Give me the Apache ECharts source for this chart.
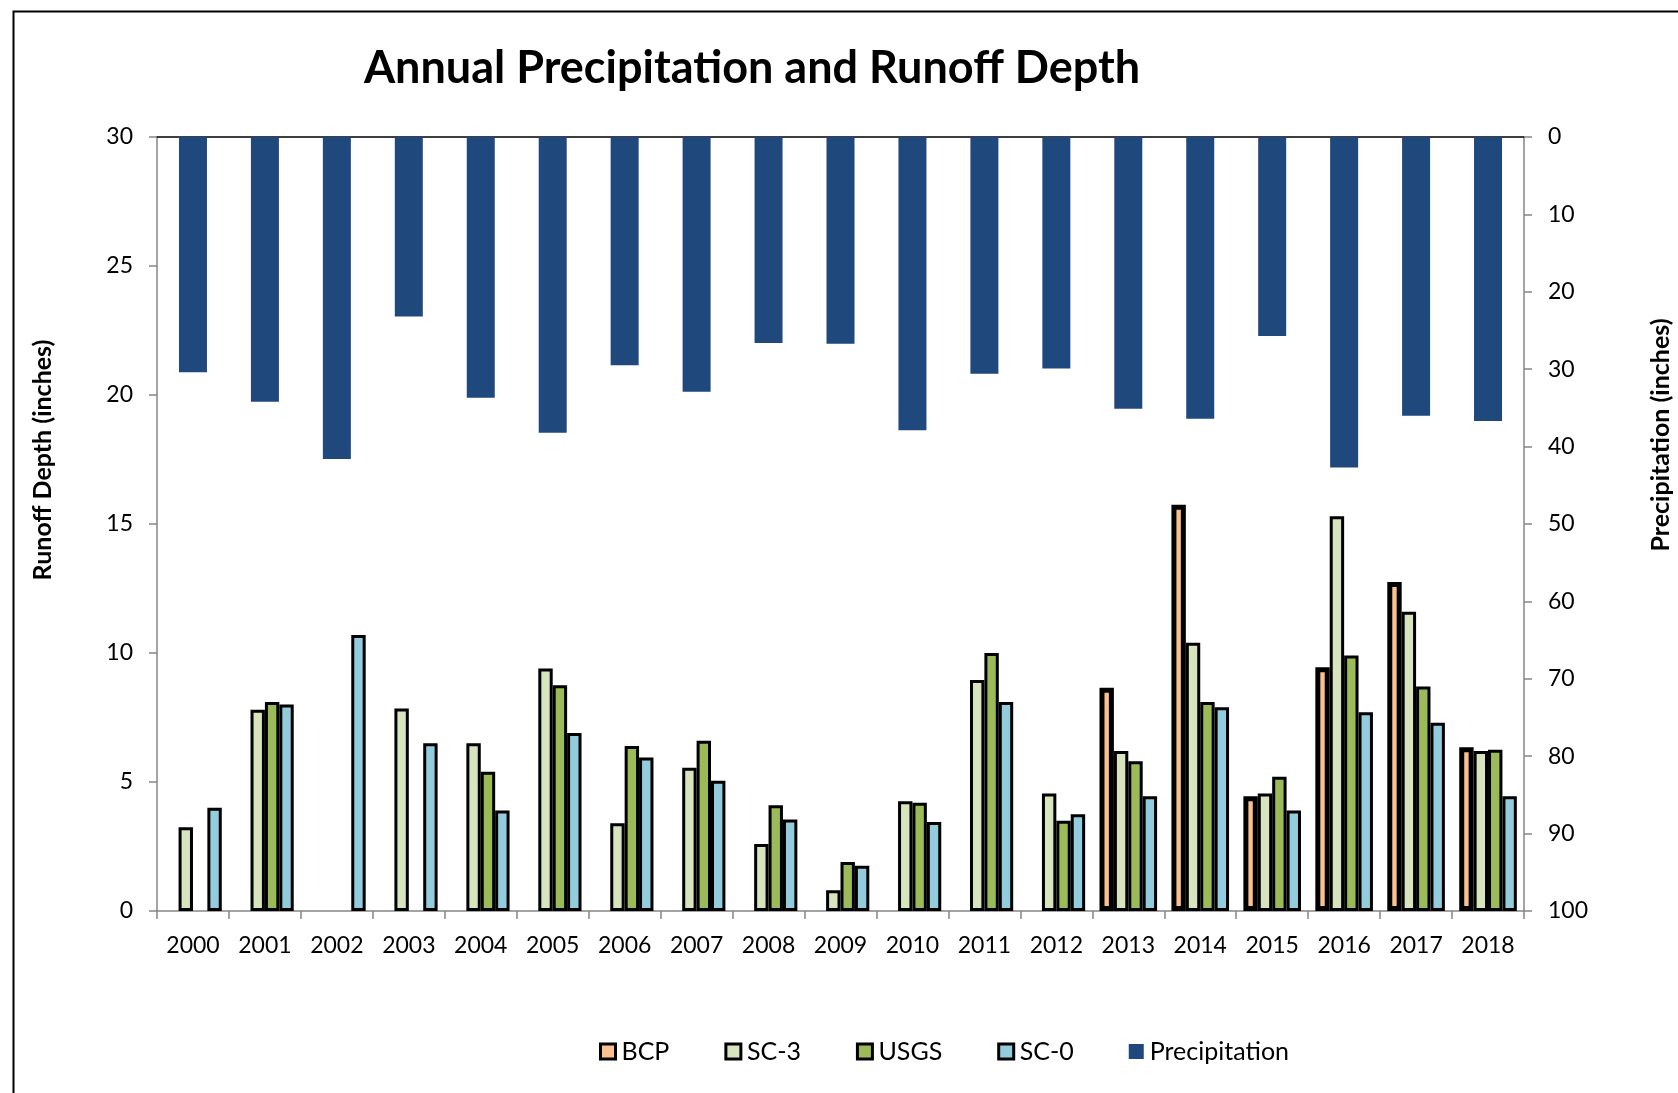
<!DOCTYPE html>
<html>
<head>
<meta charset="utf-8">
<script src="https://cdn.jsdelivr.net/npm/echarts@6/dist/echarts.min.js"></script>
<style>
  html, body { margin: 0; padding: 0; background: #fff; }
  #chart { width: 1678px; height: 1093px; }
</style>
</head>
<body>
<div id="chart"></div>
<script>
// Water years on the category axis
const years = ['2000','2001','2002','2003','2004','2005','2006','2007','2008','2009',
               '2010','2011','2012','2013','2014','2015','2016','2017','2018'];

// Runoff depth by gauge (inches); null where a gauge has no record
const bcp  = [null, null, null, null, null, null, null, null, null, null,
              null, null, null, 8.65, 15.75, 4.45, 9.45, 12.75, 6.35];
const sc3  = [3.25, 7.8, null, 7.85, 6.5, 9.4, 3.4, 5.55, 2.6, 0.8,
              4.25, 8.95, 4.55, 6.2, 10.4, 4.55, 15.3, 11.6, 6.2];
const usgs = [null, 8.1, null, null, 5.4, 8.75, 6.4, 6.6, 4.1, 1.9,
              4.2, 10.0, 3.5, 5.8, 8.1, 5.2, 9.9, 8.7, 6.25];
const sc0  = [4.0, 8.0, 10.7, 6.5, 3.9, 6.9, 5.95, 5.05, 3.55, 1.75,
              3.45, 8.1, 3.75, 4.45, 7.9, 3.9, 7.7, 7.3, 4.45];

// Annual precipitation (inches), hung from the top on an inverted axis
const precip = [30.4, 34.2, 41.6, 23.2, 33.7, 38.2, 29.5, 32.9, 26.6, 26.7,
                37.9, 30.6, 29.9, 35.1, 36.4, 25.7, 42.7, 36.0, 36.7];

// Axis tick settings
const runoffMax = 30, runoffStep = 5;
const precipMax = 100, precipStep = 10;

const FONT = 'Lato, "Open Sans", sans-serif';
const AXIS_GRAY = '#868686';

const chart = echarts.init(document.getElementById('chart'), null, { renderer: 'canvas' });

function runoffSeries(name, data, color, border) {
  return {
    name: name,
    type: 'bar',
    xAxisIndex: 0,
    yAxisIndex: 0,
    data: data,
    barWidth: 14.4,
    barGap: '0%',
    itemStyle: { color: color, borderColor: '#000', borderWidth: border },
    emphasis: { disabled: true }
  };
}

const legendBox = { borderColor: '#000', borderWidth: 3 };

chart.setOption({
  animation: false,
  backgroundColor: '#fff',
  title: {
    text: 'Annual Precipitation and Runoff Depth',
    left: 747,
    top: 41,
    textAlign: 'center',
    textStyle: { fontFamily: FONT, fontWeight: 'bold', fontSize: 45, color: '#000' }
  },
  legend: {
    left: 594,
    top: 1034,
    itemGap: 55,
    itemWidth: 15,
    itemHeight: 15,
    icon: 'rect',
    textStyle: { fontFamily: FONT, fontSize: 25, color: '#000', padding: [0, 0, 0, 1] },
    data: [
      { name: 'BCP', itemStyle: legendBox },
      { name: 'SC-3', itemStyle: legendBox },
      { name: 'USGS', itemStyle: legendBox },
      { name: 'SC-0', itemStyle: legendBox },
      { name: 'Precipitation' }
    ]
  },
  grid: { left: 157, right: 154, top: 137, bottom: 182, containLabel: false },
  xAxis: [
    {
      type: 'category',
      data: years,
      position: 'bottom',
      axisLine: { lineStyle: { color: AXIS_GRAY, width: 1.5 } },
      axisTick: { show: true, alignWithLabel: false, length: 8, lineStyle: { color: AXIS_GRAY, width: 1.5 } },
      axisLabel: { fontFamily: FONT, fontSize: 23, color: '#000', margin: 23 },
      splitLine: { show: false }
    },
    {
      type: 'category',
      data: years,
      position: 'top',
      axisLine: { lineStyle: { color: '#000', width: 1.5 } },
      axisTick: { show: false },
      axisLabel: { show: false },
      splitLine: { show: false }
    }
  ],
  yAxis: [
    {
      type: 'value',
      min: 0,
      max: runoffMax,
      interval: runoffStep,
      position: 'left',
      axisLine: { show: true, lineStyle: { color: AXIS_GRAY, width: 1.5 } },
      axisTick: { show: true, length: 8, lineStyle: { color: AXIS_GRAY, width: 1.5 } },
      axisLabel: { fontFamily: FONT, fontSize: 23, color: '#000', margin: 24 },
      splitLine: { show: false }
    },
    {
      type: 'value',
      min: 0,
      max: precipMax,
      interval: precipStep,
      inverse: true,
      position: 'right',
      axisLine: { show: true, lineStyle: { color: AXIS_GRAY, width: 1.5 } },
      axisTick: { show: true, length: 8, lineStyle: { color: AXIS_GRAY, width: 1.5 } },
      axisLabel: { fontFamily: FONT, fontSize: 23, color: '#000', margin: 24 },
      splitLine: { show: false }
    }
  ],
  series: [
    runoffSeries('BCP', bcp, '#FAC090', 5),
    runoffSeries('SC-3', sc3, '#D7E4BD', 3),
    runoffSeries('USGS', usgs, '#9BBB59', 3),
    runoffSeries('SC-0', sc0, '#93CDDD', 3),
    {
      name: 'Precipitation',
      type: 'bar',
      xAxisIndex: 1,
      yAxisIndex: 1,
      data: precip,
      barWidth: 28,
      itemStyle: { color: '#1F497D' },
      emphasis: { disabled: true }
    }
  ],
  graphic: [
    {
      type: 'rect',
      left: 11,
      top: 9,
      shape: { width: 1720, height: 1120 },
      style: { fill: 'none', stroke: '#000', lineWidth: 2 },
      silent: true
    },
    {
      type: 'text',
      x: 43,
      y: 460,
      rotation: Math.PI / 2,
      style: {
        text: 'Runoff Depth (inches)',
        fontFamily: FONT,
        fontWeight: 'bold',
        fontSize: 25,
        fill: '#000',
        textAlign: 'center',
        textVerticalAlign: 'middle'
      },
      silent: true
    },
    {
      type: 'text',
      x: 1661,
      y: 435,
      rotation: Math.PI / 2,
      style: {
        text: 'Precipitation (inches)',
        fontFamily: FONT,
        fontWeight: 'bold',
        fontSize: 25,
        fill: '#000',
        textAlign: 'center',
        textVerticalAlign: 'middle'
      },
      silent: true
    }
  ]
});
</script>
</body>
</html>
